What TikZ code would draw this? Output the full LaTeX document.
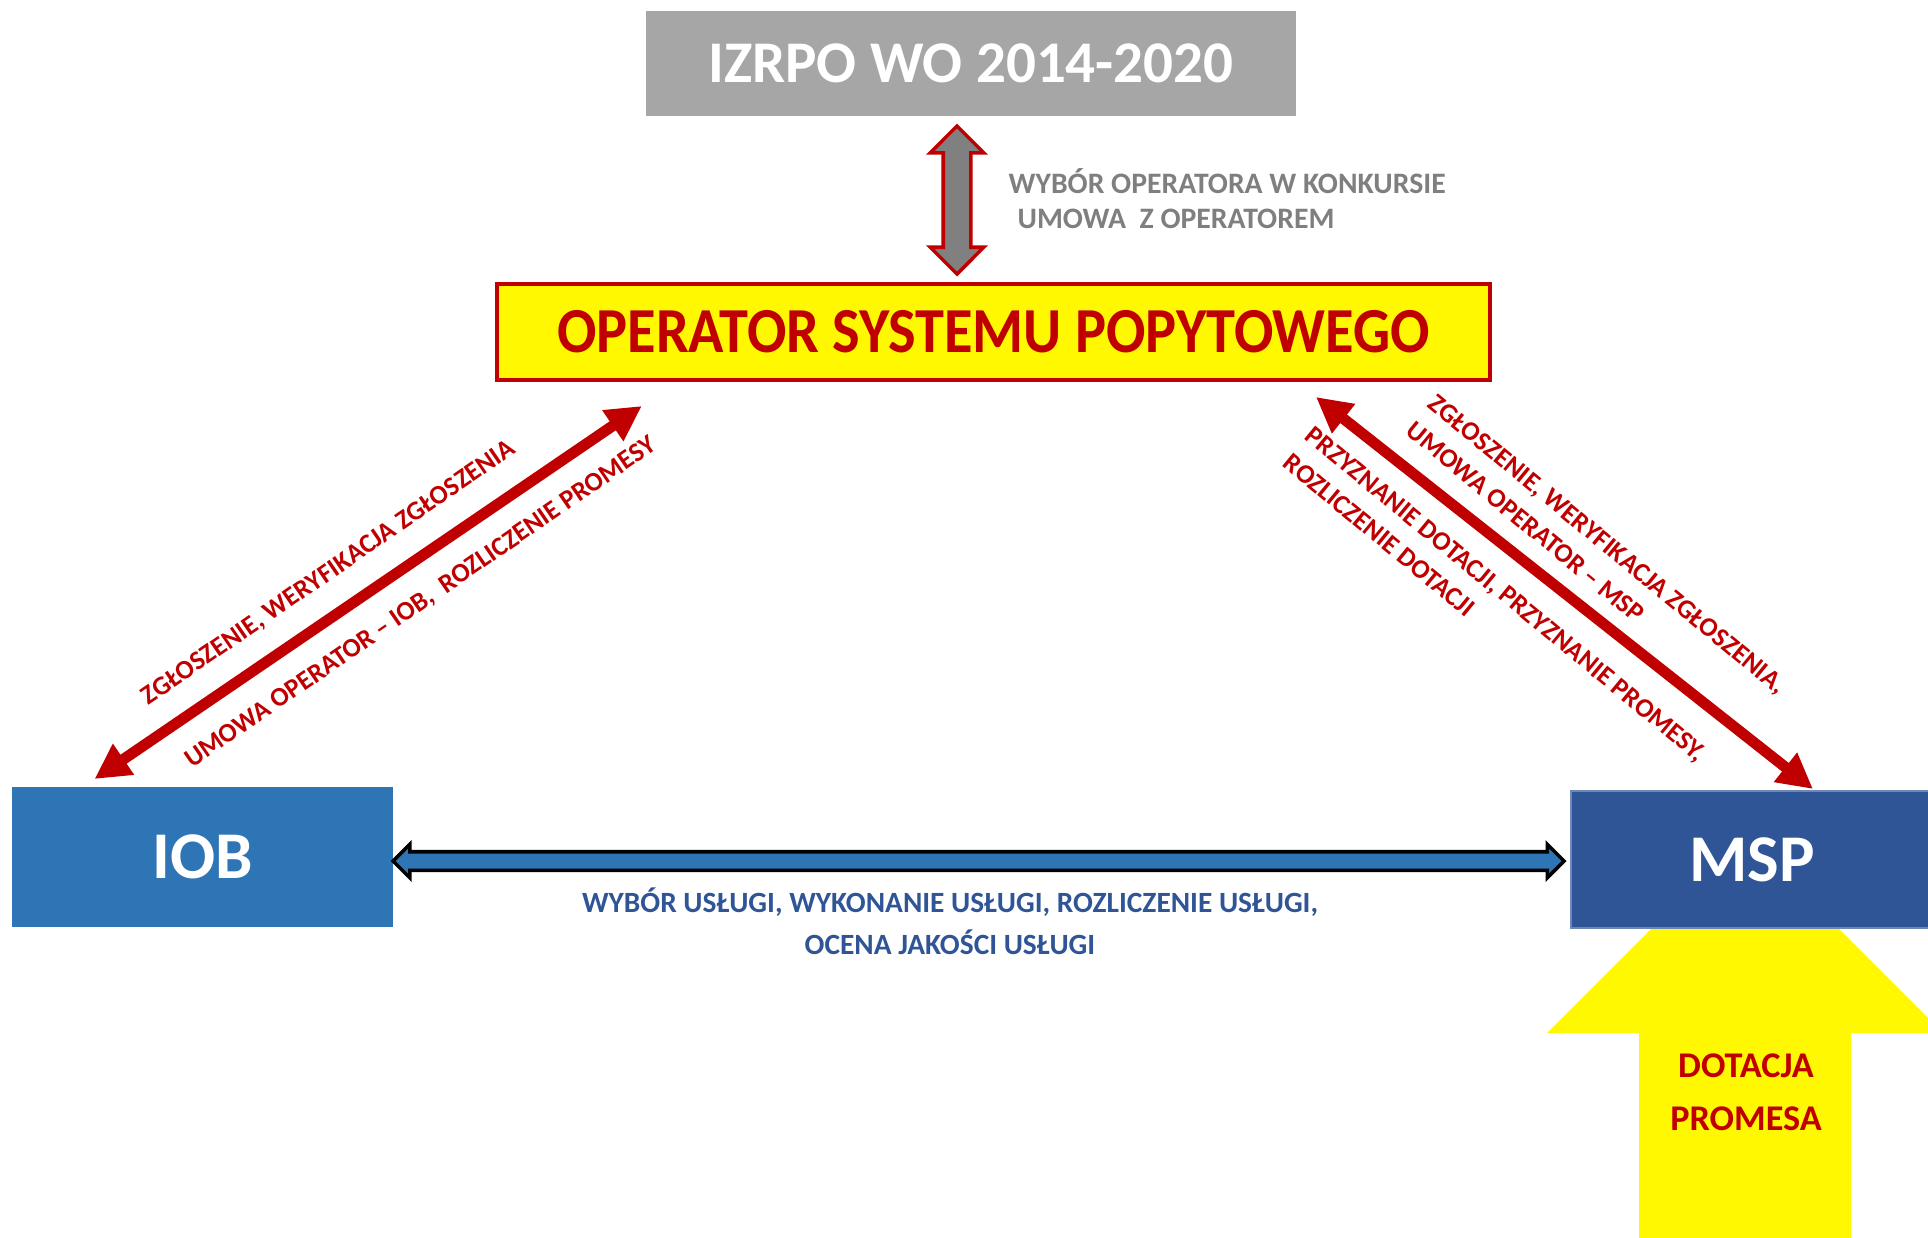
\documentclass[tikz,border=0pt]{standalone}
\usepackage{fontspec}
\setmainfont{Carlito}
\usepackage{tikz}
\usetikzlibrary{calc,arrows.meta,shapes.arrows,positioning}
\tikzstyle{topbox}=[fill=izrpogray,text=white,minimum width=6.5cm,minimum height=1.05cm,inner sep=0pt,font=\fontsize{16.8}{20}\selectfont\bfseries]
\tikzstyle{opbox}=[draw=opred,line width=0.9pt,fill=opyellow,text=opred,minimum width=9.93cm,minimum height=0.96cm,inner sep=0pt,font=\fontsize{16.6}{20}\selectfont\bfseries]
\tikzstyle{sidebox}=[text=white,minimum height=1.4cm,inner sep=0pt,font=\fontsize{19}{22}\selectfont\bfseries]
\tikzstyle{note}=[inner sep=0pt,align=left,font=\fontsize{7.6}{10}\selectfont\bfseries]
\tikzstyle{redlink}=[draw=opred,line width=3.1pt,>={Triangle[length=10pt,width=10pt]},<->]
\tikzstyle{graylink}=[double arrow,draw=opred,fill=arrowgray,line width=1pt,inner xsep=0pt,inner ysep=0.12cm,minimum height=1.48cm,minimum width=0.5cm,double arrow head extend=0.13cm]
\tikzstyle{bluelink}=[double arrow,draw=black,fill=iobblue,line width=1pt,inner xsep=0pt,inner ysep=0.075cm,minimum height=11.71cm,minimum width=0.3cm,double arrow head extend=0.075cm]
\definecolor{izrpogray}{RGB}{166,166,166}
\definecolor{opyellow}{RGB}{255,248,0}
\definecolor{opred}{RGB}{192,0,0}
\definecolor{iobblue}{RGB}{46,117,182}
\definecolor{mspblue}{RGB}{47,85,151}
\definecolor{notegray}{RGB}{127,127,127}
\definecolor{arrowgray}{RGB}{128,128,128}

\begin{document}
\begin{tikzpicture}
\useasboundingbox (0,0) rectangle (19.28,12.37);
% dotacja arrow under MSP
\fill[opyellow] (16.39,-0.13) -- (16.39,2.04) -- (15.47,2.04) -- (17.45,4.02) -- (19.43,2.04) -- (18.51,2.04) -- (18.51,-0.13) -- cycle;
\draw (17.46,1.445) node [note,align=center,text=opred,font=\fontsize{10.3}{15}\selectfont\bfseries] (dot) {DOTACJA\\PROMESA};
% boxes
\draw (9.71,11.735) node [topbox] (izrpo) {IZRPO WO 2014-2020};
\draw (9.935,9.05) node [opbox] (op) {\scalebox{1}[1.1]{OPERATOR SYSTEMU POPYTOWEGO}};
\draw (2.025,3.80) node [sidebox,fill=iobblue,minimum width=3.81cm] (iob) {IOB};
\draw (17.52,3.775) node [sidebox,fill=mspblue,draw=mspblue!70!white,line width=0.6pt,minimum width=3.62cm,minimum height=1.37cm] (msp) {MSP};
% arrows
\draw (9.57,10.37) node [graylink,rotate=90] (choice) {};
\draw (9.785,3.76) node [bluelink] (usluga) {};
\coordinate (iobTip) at (0.945,4.58);
\coordinate (opLeft) at (6.418,8.31);
\coordinate (opRight) at (13.16,8.40);
\coordinate (mspTip) at (18.13,4.48);
\draw[redlink] (iobTip) -- (opLeft);
\draw[redlink] (opRight) -- (mspTip);
% labels
\draw (10.08,10.385) node [note,anchor=west,text=notegray,font=\fontsize{8.45}{10}\selectfont\bfseries] (choicetxt) {WYB\'OR OPERATORA W KONKURSIE\\\hspace{0.3em}UMOWA\ \ Z OPERATOREM};
\draw (9.50,3.16) node [note,align=center,text=mspblue,font=\fontsize{8.36}{12}\selectfont\bfseries] (uslugatxt) {WYB\'OR US\L{}UGI, WYKONANIE US\L{}UGI, ROZLICZENIE US\L{}UGI,\\OCENA JAKO\'SCI US\L{}UGI};
\draw (3.29,6.64) node [note,text=opred,rotate=34.5] (iobtxtA) {ZG\L{}OSZENIE, WERYFIKACJA ZG\L{}OSZENIA};
\draw (4.21,6.34) node [note,text=opred,rotate=34.5] (iobtxtB) {UMOWA OPERATOR -- IOB,\ \ ROZLICZENIE PROMESY};
\draw (14.38,8.45) node [note,text=opred,rotate=-39.5,anchor=north west] (msptxtA) {ZG\L{}OSZENIE, WERYFIKACJA ZG\L{}OSZENIA,\\UMOWA OPERATOR -- MSP};
\draw (13.15,8.13) node [note,text=opred,rotate=-39.5,anchor=north west] (msptxtB) {PRZYZNANIE DOTACJI, PRZYZNANIE PROMESY,\\ROZLICZENIE DOTACJI};
\end{tikzpicture}
\end{document}
